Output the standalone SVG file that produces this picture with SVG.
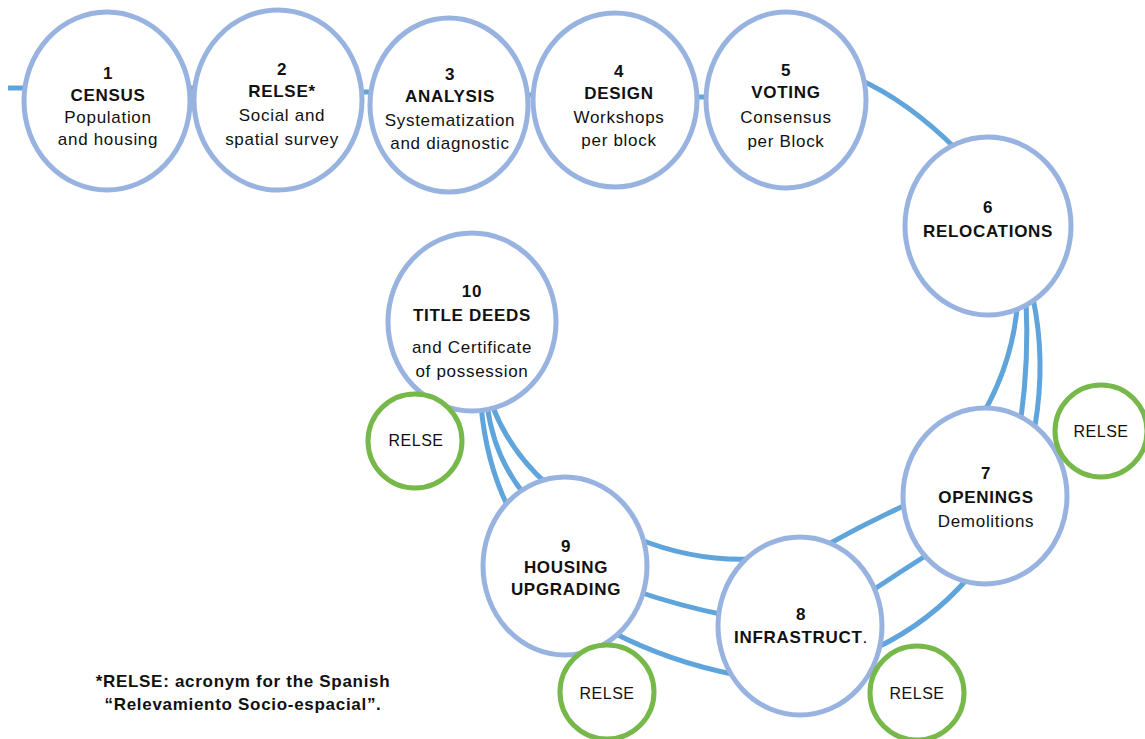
<svg xmlns="http://www.w3.org/2000/svg" width="1145" height="739" viewBox="0 0 1145 739">
<style>
.node{fill:#ffffff;stroke:#98b3e0;stroke-width:5}
.relse{fill:#ffffff;stroke:#77b84a;stroke-width:5}
.conn{fill:none;stroke:#5fa4da;stroke-width:5;stroke-linecap:butt}
text{font-family:"Liberation Sans",Arial,Helvetica,sans-serif;font-size:17px;letter-spacing:0.7px;fill:#111;text-anchor:middle}
.b{font-weight:bold}
.g{font-size:16px;letter-spacing:0.5px}
</style>
<rect width="1145" height="739" fill="#ffffff"/>
<g id="connectors">
<line class="conn" x1="8" y1="88" x2="40" y2="88"/>
<line class="conn" x1="170" y1="88" x2="210" y2="88"/>
<line class="conn" x1="340" y1="92" x2="390" y2="92"/>
<line class="conn" x1="510" y1="95" x2="550" y2="95"/>
<line class="conn" x1="680" y1="97" x2="720" y2="97"/>
<path class="conn" d="M856 78 Q907 100 957 150"/>
<path class="conn" d="M1018 298 Q1014 360 983 414"/>
<path class="conn" d="M1026 300 Q1029 360 1021 418"/>
<path class="conn" d="M1033 298 Q1046 360 1035 426"/>
<path class="conn" d="M910 503 Q868 522 825 546"/>
<path class="conn" d="M930 553 Q900 572 870 592"/>
<path class="conn" d="M968 578 Q930 622 876 648"/>
<path class="conn" d="M636 538 Q695 562 755 559"/>
<path class="conn" d="M636 591 Q680 606 725 615"/>
<path class="conn" d="M612 632 Q670 662 737 675"/>
<path class="conn" d="M481 405 Q486 462 508 507"/>
<path class="conn" d="M487 405 Q494 457 524 494"/>
<path class="conn" d="M492 405 Q510 452 548 485"/>
</g>
<g id="n1"><ellipse class="node" cx="107" cy="101" rx="83" ry="89"/>
<text x="108" y="79" class="b">1</text><text x="108" y="101" class="b">CENSUS</text><text x="108" y="123">Population</text><text x="108" y="145">and housing</text></g>
<g id="n2"><ellipse class="node" cx="278" cy="100" rx="84" ry="90"/>
<text x="282" y="75" class="b">2</text><text x="282" y="97" class="b">RELSE*</text><text x="282" y="121">Social and</text><text x="282" y="145">spatial survey</text></g>
<g id="n3"><ellipse class="node" cx="449" cy="105" rx="79" ry="87"/>
<text x="450" y="80" class="b">3</text><text x="450" y="102" class="b">ANALYSIS</text><text x="450" y="126">Systematization</text><text x="450" y="149">and diagnostic</text></g>
<g id="n4"><ellipse class="node" cx="615" cy="100" rx="82" ry="87"/>
<text x="619" y="77" class="b">4</text><text x="619" y="99" class="b">DESIGN</text><text x="619" y="123">Workshops</text><text x="619" y="146">per block</text></g>
<g id="n5"><ellipse class="node" cx="786" cy="100" rx="80" ry="88"/>
<text x="786" y="76" class="b">5</text><text x="786" y="98" class="b">VOTING</text><text x="786" y="123">Consensus</text><text x="786" y="147">per Block</text></g>
<g id="n6"><ellipse class="node" cx="988" cy="226" rx="83" ry="89"/>
<text x="988" y="213" class="b">6</text><text x="988" y="237" class="b">RELOCATIONS</text></g>
<g id="n7"><ellipse class="node" cx="985" cy="496" rx="82" ry="88"/>
<text x="986" y="479" class="b">7</text><text x="986" y="503" class="b">OPENINGS</text><text x="986" y="527">Demolitions</text></g>
<g id="n8"><ellipse class="node" cx="800" cy="626" rx="82" ry="89"/>
<text x="801" y="620" class="b">8</text><text x="801" y="643"><tspan class="b">INFRASTRUCT</tspan>.</text></g>
<g id="n9"><ellipse class="node" cx="565" cy="566" rx="82" ry="89"/>
<text x="566" y="552" class="b">9</text><text x="566" y="573" class="b">HOUSING</text><text x="566" y="595" class="b">UPGRADING</text></g>
<g id="n10"><ellipse class="node" cx="472" cy="322" rx="84" ry="89"/>
<text x="472" y="297" class="b">10</text><text x="472" y="321" class="b">TITLE DEEDS</text><text x="472" y="353">and Certificate</text><text x="472" y="377">of possession</text></g>
<g id="relse10"><circle class="relse" cx="415" cy="441" r="47"/><text x="416" y="446" class="g">RELSE</text></g>
<g id="relse7"><circle class="relse" cx="1101" cy="431" r="46"/><text x="1101" y="437" class="g">RELSE</text></g>
<g id="relse9"><circle class="relse" cx="607" cy="692" r="47"/><text x="607" y="699" class="g">RELSE</text></g>
<g id="relse8"><circle class="relse" cx="917" cy="693" r="47"/><text x="917" y="699" class="g">RELSE</text></g>
<g id="footnote">
<text x="243" y="687" class="b">*RELSE: acronym for the Spanish</text>
<text x="243" y="710" class="b">“Relevamiento Socio-espacial”.</text>
</g>
</svg>
